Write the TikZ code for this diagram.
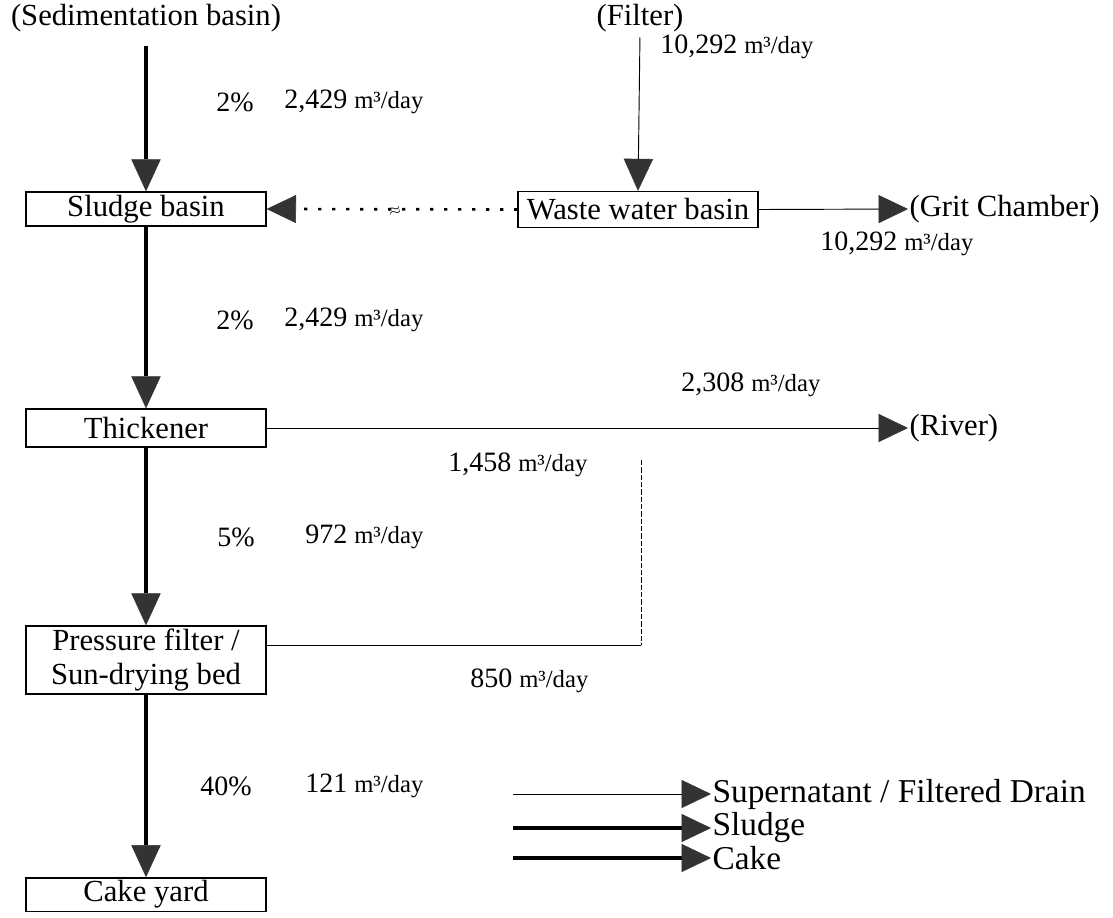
\documentclass[tikz,border=0pt]{standalone}
\usepackage{fontspec}
\setmainfont{Liberation Serif}
\usetikzlibrary{arrows.meta}
\newcommand{\unitm}{{\fontsize{18.5}{20}\selectfont m³/day}}
\begin{document}
\begin{tikzpicture}[x=0.75pt,y=-0.75pt,
  box/.style={draw, line width=1pt, minimum width=180pt, inner sep=0pt, align=center,
              font=\fontsize{23}{25}\selectfont},
  txt/.style={inner sep=1pt, font=\fontsize{23}{25}\selectfont},
  lgd/.style={inner sep=1pt, anchor=west, font=\fontsize{25}{27}\selectfont},
  lbl/.style={anchor=west, inner sep=0pt, font=\fontsize{21}{23}\selectfont},
  vtip/.style={-{Triangle[length=24pt,width=22pt,line width=0.4pt,fill=black!80,color=black!80]}},
  htip/.style={-{Triangle[length=22pt,width=21pt,line width=0.4pt,fill=black!80,color=black!80]}},
  thinline/.style={line width=0.7pt},
  sludgeline/.style={line width=2.3pt},
  cakeline/.style={line width=3.7pt},
  dotline/.style={line width=2pt, dash pattern=on 2.5pt off 8pt}
]
\useasboundingbox (0,0) rectangle (1113,917);

% nodes
\node[txt] (sed) at (146,18) {(Sedimentation basin)};
\node[txt] (filter) at (640,18) {(Filter)};
\node[box, minimum height=25.5pt] (sb) at (146,209) {Sludge basin};
\node[box, minimum height=27pt] (ww) at (638,209.5) {Waste water basin};
\node[box, minimum height=28.5pt] (th) at (146,428) {Thickener};
\node[box, minimum height=51pt] (pf) at (146,660) {Pressure filter /\\Sun-drying bed};
\node[box, minimum height=25pt] (cy) at (146,894.5) {Cake yard};
\node[txt, anchor=west] (grit) at (908,209) {(Grit Chamber)};
\node[txt, anchor=west] (river) at (908,428) {(River)};

% connectors
\draw[sludgeline, vtip, shorten <=9pt] (sed.south) -- (sb.north);
\draw[thinline, vtip, shorten <=3pt] (filter.south) -- (ww.north);
\draw[dotline, htip] (ww.west) -- (sb.east);
\node[inner sep=0pt, font=\fontsize{12}{12}\selectfont, rotate=15] (brk) at (395,211) {$\approx$};
\draw[thinline, htip] (ww.east) -- (grit.west);
\draw[sludgeline, vtip] (sb.south) -- (th.north);
\draw[thinline, htip] (th.east) -- (river.west);
\draw[sludgeline, vtip] (th.south) -- (pf.north);
\draw[cakeline, vtip] (pf.south) -- (cy.north);
\coordinate (r1) at (641,460);
\coordinate (r2) at (641,645);
\draw[thinline, dash pattern=on 4pt off 1.5pt] (r1) -- (r2);
\draw[thinline] (r2) -- (r2 -| pf.east);

% flow labels
\node[lbl] (p1) at (216,102) {2\%};
\node[lbl] (q1) at (284,102) {2,429 \unitm};
\node[lbl] (q2) at (660,47) {10,292 \unitm};
\node[lbl] (q3) at (820,244) {10,292 \unitm};
\node[lbl] (p4) at (216,320) {2\%};
\node[lbl] (q4) at (284,320) {2,429 \unitm};
\node[lbl] (q5) at (681,385) {2,308 \unitm};
\node[lbl] (q6) at (448,465) {1,458 \unitm};
\node[lbl] (p7) at (217,537) {5\%};
\node[lbl] (q7) at (305,537) {972 \unitm};
\node[lbl] (q8) at (470,681) {850 \unitm};
\node[lbl] (p9) at (200,786) {40\%};
\node[lbl] (q9) at (305,786) {121 \unitm};

% legend
\coordinate (a1) at (513,794);
\coordinate (a2) at (513,828);
\coordinate (a3) at (513,858);
\node[lgd] (t1) at (711,794) {Supernatant / Filtered Drain};
\node[lgd] (t2) at (711,828) {Sludge};
\node[lgd] (t3) at (711,858) {Cake};
\draw[thinline, htip] (a1) -- (t1.west);
\draw[sludgeline, htip] (a2) -- (t2.west);
\draw[cakeline, htip] (a3) -- (t3.west);
\end{tikzpicture}
\end{document}
